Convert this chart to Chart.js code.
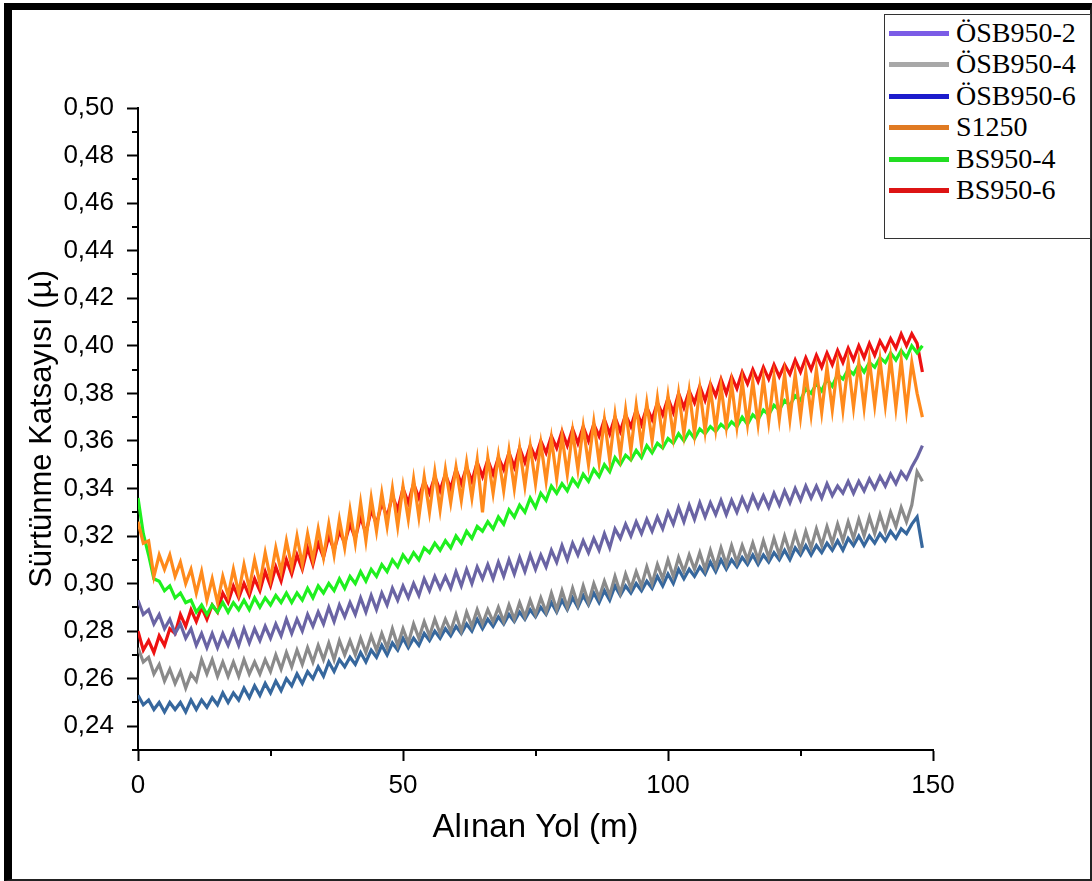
<!DOCTYPE html>
<html>
<head>
<meta charset="utf-8">
<script src="https://cdn.jsdelivr.net/npm/chart.js@4.4.1/dist/chart.umd.min.js"></script>
<style>
  html, body { margin: 0; padding: 0; background: #fff; }
  #wrap { position: relative; width: 1092px; height: 881px; overflow: hidden; background: #fff; }
  #c { position: absolute; left: 0; top: 0; }
  #frame {
    position: absolute; left: 4px; top: 3px; right: 0; bottom: 0;
    border-left: 8px solid #000; border-top: 7px solid #000;
    border-right: 2px solid #222; border-bottom: 2px solid #222;
    pointer-events: none;
  }
  #legend {
    position: absolute; left: 884px; top: 14px; width: 205px; height: 223px;
    border: 1px solid #333; background: #fff;
    font-family: "Liberation Serif", "Times New Roman", serif; font-size: 28px; color: #000;
  }
  .item { position: absolute; left: 0; width: 205px; height: 30px; }
  .swatch { position: absolute; left: 4px; top: 13px; width: 60px; height: 5px; }
  .label { position: absolute; left: 71px; top: 0; line-height: 30px; white-space: nowrap; }
</style>
</head>
<body>
<div id="wrap">
  <canvas id="c" width="1092" height="881"></canvas>
  <div id="frame"></div>
  <div id="legend"></div>
</div>
<script>
// Sliding distance (m) of each sample
const distance = [
  0,1,2,3,4,5,6,7,8,9,10,11,12,13,14,15,16,17,18,19,
  20,21,22,23,24,25,26,27,28,29,30,31,32,33,34,35,36,37,38,39,
  40,41,42,43,44,45,46,47,48,49,50,51,52,53,54,55,56,57,58,59,
  60,61,62,63,64,65,66,67,68,69,70,71,72,73,74,75,76,77,78,79,
  80,81,82,83,84,85,86,87,88,89,90,91,92,93,94,95,96,97,98,99,
  100,101,102,103,104,105,106,107,108,109,110,111,112,113,114,115,116,117,118,119,
  120,121,122,123,124,125,126,127,128,129,130,131,132,133,134,135,136,137,138,139,
  140,141,142,143,144,145,146,147,148
];

// Friction coefficient of each specimen
const osb950_2 = [
  .293,.287,.289,.283,.287,.281,.285,.279,.283,.277,
  .281,.274,.279,.273,.279,.273,.279,.274,.280,.274,
  .281,.275,.281,.276,.282,.277,.283,.278,.285,.279,
  .285,.280,.287,.282,.288,.283,.290,.284,.291,.286,
  .292,.287,.294,.288,.295,.289,.296,.291,.298,.293,
  .299,.294,.300,.295,.302,.297,.303,.298,.303,.298,
  .305,.299,.306,.300,.307,.302,.308,.302,.309,.303,
  .310,.304,.311,.305,.312,.306,.312,.307,.314,.309,
  .316,.310,.317,.312,.318,.313,.319,.314,.321,.315,
  .323,.319,.325,.320,.326,.321,.327,.322,.328,.323,
  .330,.325,.332,.326,.333,.327,.334,.328,.334,.329,
  .335,.329,.335,.330,.336,.331,.337,.332,.337,.332,
  .338,.333,.339,.334,.340,.335,.341,.336,.341,.336,
  .342,.337,.341,.338,.343,.338,.343,.339,.344,.340,
  .345,.341,.346,.342,.347,.344,.349,.353,.358
];
const osb950_4 = [
  .273,.267,.269,.262,.266,.259,.264,.258,.263,.256,
  .262,.259,.268,.262,.268,.261,.267,.261,.267,.261,
  .268,.262,.267,.262,.268,.263,.270,.264,.271,.265,
  .272,.266,.273,.267,.274,.268,.275,.268,.276,.270,
  .276,.270,.277,.271,.278,.272,.279,.273,.281,.274,
  .281,.275,.283,.277,.284,.278,.285,.279,.285,.280,
  .287,.280,.288,.282,.289,.283,.289,.284,.290,.284,
  .291,.285,.292,.286,.293,.287,.294,.288,.296,.289,
  .297,.290,.298,.291,.299,.292,.300,.294,.301,.295,
  .303,.296,.304,.298,.305,.299,.307,.300,.308,.302,
  .310,.303,.311,.305,.312,.306,.313,.306,.314,.307,
  .315,.308,.316,.309,.316,.310,.317,.310,.318,.311,
  .319,.312,.320,.313,.321,.314,.322,.315,.323,.316,
  .324,.317,.325,.318,.326,.319,.327,.320,.328,.321,
  .329,.322,.330,.324,.332,.326,.333,.347,.343
];
const osb950_6 = [
  .253,.249,.251,.247,.250,.246,.250,.247,.250,.246,
  .251,.247,.251,.248,.252,.249,.254,.250,.254,.251,
  .256,.252,.257,.253,.258,.254,.259,.255,.260,.257,
  .262,.258,.263,.260,.265,.261,.267,.263,.268,.265,
  .269,.266,.271,.267,.272,.269,.274,.270,.275,.272,
  .277,.273,.277,.274,.279,.276,.280,.277,.281,.278,
  .282,.279,.283,.280,.285,.281,.285,.282,.286,.283,
  .287,.284,.288,.285,.289,.286,.290,.287,.292,.288,
  .293,.289,.294,.290,.295,.291,.296,.292,.297,.293,
  .299,.295,.299,.296,.300,.297,.301,.298,.303,.299,
  .304,.300,.306,.302,.306,.303,.307,.304,.309,.305,
  .310,.306,.310,.307,.311,.308,.312,.308,.312,.309,
  .313,.310,.314,.310,.315,.312,.316,.312,.316,.313,
  .317,.314,.318,.314,.319,.316,.320,.316,.320,.317,
  .321,.318,.322,.319,.323,.321,.325,.328,.315
];
const s1250 = [
  .326,.317,.318,.303,.312,.306,.312,.303,.309,.300,
  .306,.296,.305,.293,.302,.292,.303,.295,.306,.296,
  .308,.298,.310,.300,.313,.302,.315,.305,.318,.307,
  .320,.308,.321,.310,.323,.311,.325,.312,.327,.315,
  .331,.317,.334,.318,.336,.322,.338,.324,.340,.324,
  .341,.327,.344,.328,.345,.330,.347,.331,.348,.334,
  .349,.335,.351,.336,.352,.330,.353,.338,.354,.339,
  .356,.340,.357,.341,.358,.342,.359,.343,.361,.344,
  .362,.346,.364,.348,.366,.350,.368,.351,.369,.352,
  .371,.354,.373,.356,.375,.358,.376,.360,.378,.361,
  .379,.362,.380,.363,.381,.363,.382,.364,.382,.365,
  .383,.366,.384,.366,.385,.367,.385,.367,.386,.368,
  .387,.369,.388,.369,.388,.370,.389,.371,.390,.372,
  .391,.373,.392,.373,.393,.374,.393,.374,.394,.375,
  .394,.375,.395,.374,.394,.373,.393,.380,.370
];
const bs950_4 = [
  .336,.321,.312,.302,.301,.297,.299,.294,.296,.292,
  .293,.288,.291,.287,.291,.288,.292,.288,.292,.289,
  .293,.289,.294,.290,.294,.291,.295,.292,.296,.292,
  .296,.293,.298,.294,.299,.296,.300,.297,.302,.298,
  .303,.300,.305,.301,.306,.303,.308,.305,.310,.307,
  .312,.309,.313,.310,.315,.313,.317,.314,.318,.315,
  .320,.317,.322,.319,.324,.322,.326,.323,.328,.325,
  .331,.328,.333,.330,.336,.332,.338,.335,.341,.338,
  .342,.339,.344,.341,.346,.343,.348,.345,.350,.347,
  .353,.350,.354,.352,.356,.353,.358,.355,.359,.357,
  .361,.359,.363,.360,.364,.361,.365,.363,.366,.364,
  .367,.365,.368,.366,.370,.367,.371,.369,.373,.371,
  .375,.373,.377,.375,.379,.377,.382,.380,.384,.381,
  .386,.383,.388,.386,.390,.388,.392,.389,.393,.391,
  .395,.393,.397,.394,.398,.395,.400,.397,.400
];
const bs950_6 = [
  .280,.272,.276,.271,.278,.274,.281,.279,.287,.282,
  .289,.284,.290,.285,.291,.288,.296,.292,.299,.294,
  .300,.295,.302,.297,.305,.299,.307,.301,.310,.304,
  .312,.306,.315,.308,.317,.311,.320,.314,.322,.317,
  .325,.319,.328,.321,.331,.325,.334,.328,.337,.331,
  .340,.334,.342,.336,.343,.338,.345,.339,.346,.340,
  .348,.342,.349,.343,.351,.345,.352,.346,.353,.348,
  .355,.349,.357,.351,.358,.353,.360,.355,.362,.357,
  .364,.358,.365,.359,.366,.360,.367,.362,.369,.363,
  .370,.364,.371,.366,.373,.367,.374,.369,.376,.371,
  .378,.372,.380,.374,.381,.376,.383,.377,.384,.379,
  .386,.380,.387,.382,.389,.384,.390,.385,.391,.386,
  .392,.387,.392,.388,.394,.389,.395,.390,.396,.391,
  .397,.392,.398,.393,.399,.394,.400,.395,.401,.396,
  .402,.398,.403,.399,.405,.400,.405,.401,.389
];

const seriesNames  = ['ÖSB950-2', 'ÖSB950-4', 'ÖSB950-6', 'S1250', 'BS950-4', 'BS950-6'];
const seriesValues = [osb950_2, osb950_4, osb950_6, s1250, bs950_4, bs950_6];
const lineColors   = ['#6a64a4', '#8a8a8a', '#36679d', '#ff8a1c', '#1ff01f', '#ee1111'];
const legendColors = ['#7b5ce6', '#a8a8a8', '#1c1ccc', '#e07a22', '#22dd22', '#dd1414'];

// Axis ticks
const xTicks = [0, 50, 100, 150];
const xTickLabels = ['0', '50', '100', '150'];
const xMinor = [25, 75, 125];
const yTicks = [0.24, 0.26, 0.28, 0.30, 0.32, 0.34, 0.36, 0.38, 0.40, 0.42, 0.44, 0.46, 0.48, 0.50];
const yTickLabels = ['0,24', '0,26', '0,28', '0,30', '0,32', '0,34', '0,36', '0,38', '0,40', '0,42', '0,44', '0,46', '0,48', '0,50'];
const yMinor = [0.23, 0.25, 0.27, 0.29, 0.31, 0.33, 0.35, 0.37, 0.39, 0.41, 0.43, 0.45, 0.47, 0.49];

const sans = '"Liberation Sans", Arial, sans-serif';

// Short outward ticks between the labelled ones
const minorTicks = {
  id: 'minorTicks',
  afterDraw(chart) {
    const { ctx, scales: { x, y } } = chart;
    ctx.save();
    ctx.strokeStyle = '#000';
    ctx.lineWidth = 2;
    ctx.beginPath();
    yMinor.forEach(v => {
      const p = Math.round(y.getPixelForValue(v));
      ctx.moveTo(y.right - 6, p);
      ctx.lineTo(y.right, p);
    });
    xMinor.forEach(v => {
      const p = Math.round(x.getPixelForValue(v));
      ctx.moveTo(p, x.top);
      ctx.lineTo(p, x.top + 6);
    });
    ctx.stroke();
    ctx.restore();
  }
};

new Chart(document.getElementById('c'), {
  type: 'line',
  data: {
    labels: distance,
    datasets: seriesNames.map((name, i) => ({
      label: name,
      data: seriesValues[i],
      borderColor: lineColors[i],
      backgroundColor: lineColors[i],
      borderWidth: 3.2,
      pointRadius: 0,
      tension: 0,
      fill: false
    }))
  },
  options: {
    responsive: false,
    animation: false,
    events: [],
    layout: { padding: { left: 0, top: 108, right: 159, bottom: 0 } },
    plugins: { legend: { display: false }, tooltip: { enabled: false } },
    scales: {
      x: {
        type: 'linear', min: 0, max: 150,
        afterBuildTicks: s => { s.ticks = xTicks.map(v => ({ value: v })); },
        afterFit: s => { s.height = 131; },
        grid: { drawOnChartArea: false, drawTicks: true, tickLength: 11, tickWidth: 2, tickColor: '#000' },
        border: { display: true, color: '#000', width: 2 },
        ticks: {
          color: '#000', font: { family: sans, size: 26 }, padding: 9,
          maxRotation: 0, autoSkip: false,
          callback: (v, i) => xTickLabels[i]
        },
        title: {
          display: true, text: 'Alınan Yol (m)', color: '#000',
          font: { family: sans, size: 33 }, padding: { top: 0, bottom: 33 }
        }
      },
      y: {
        type: 'linear', min: 0.23, max: 0.50,
        afterBuildTicks: s => { s.ticks = yTicks.map(v => ({ value: v })); },
        afterFit: s => { s.width = 138; },
        grid: { drawOnChartArea: false, drawTicks: true, tickLength: 11, tickWidth: 2, tickColor: '#000' },
        border: { display: true, color: '#000', width: 2 },
        ticks: {
          color: '#000', font: { family: sans, size: 26 }, padding: 13,
          autoSkip: false,
          callback: (v, i) => yTickLabels[i]
        },
        title: {
          display: true, text: 'Sürtünme Katsayısı (µ)', color: '#000',
          font: { family: sans, size: 31 }, padding: { top: 24, bottom: 0 }
        }
      }
    }
  },
  plugins: [minorTicks]
});

// Legend box
const legend = document.getElementById('legend');
seriesNames.forEach((name, i) => {
  const item = document.createElement('div');
  item.className = 'item';
  item.style.top = (2.7 + 31.46 * i) + 'px';
  const sw = document.createElement('div');
  sw.className = 'swatch';
  sw.style.background = legendColors[i];
  const lb = document.createElement('div');
  lb.className = 'label';
  lb.textContent = name;
  item.appendChild(sw);
  item.appendChild(lb);
  legend.appendChild(item);
});
</script>
</body>
</html>
